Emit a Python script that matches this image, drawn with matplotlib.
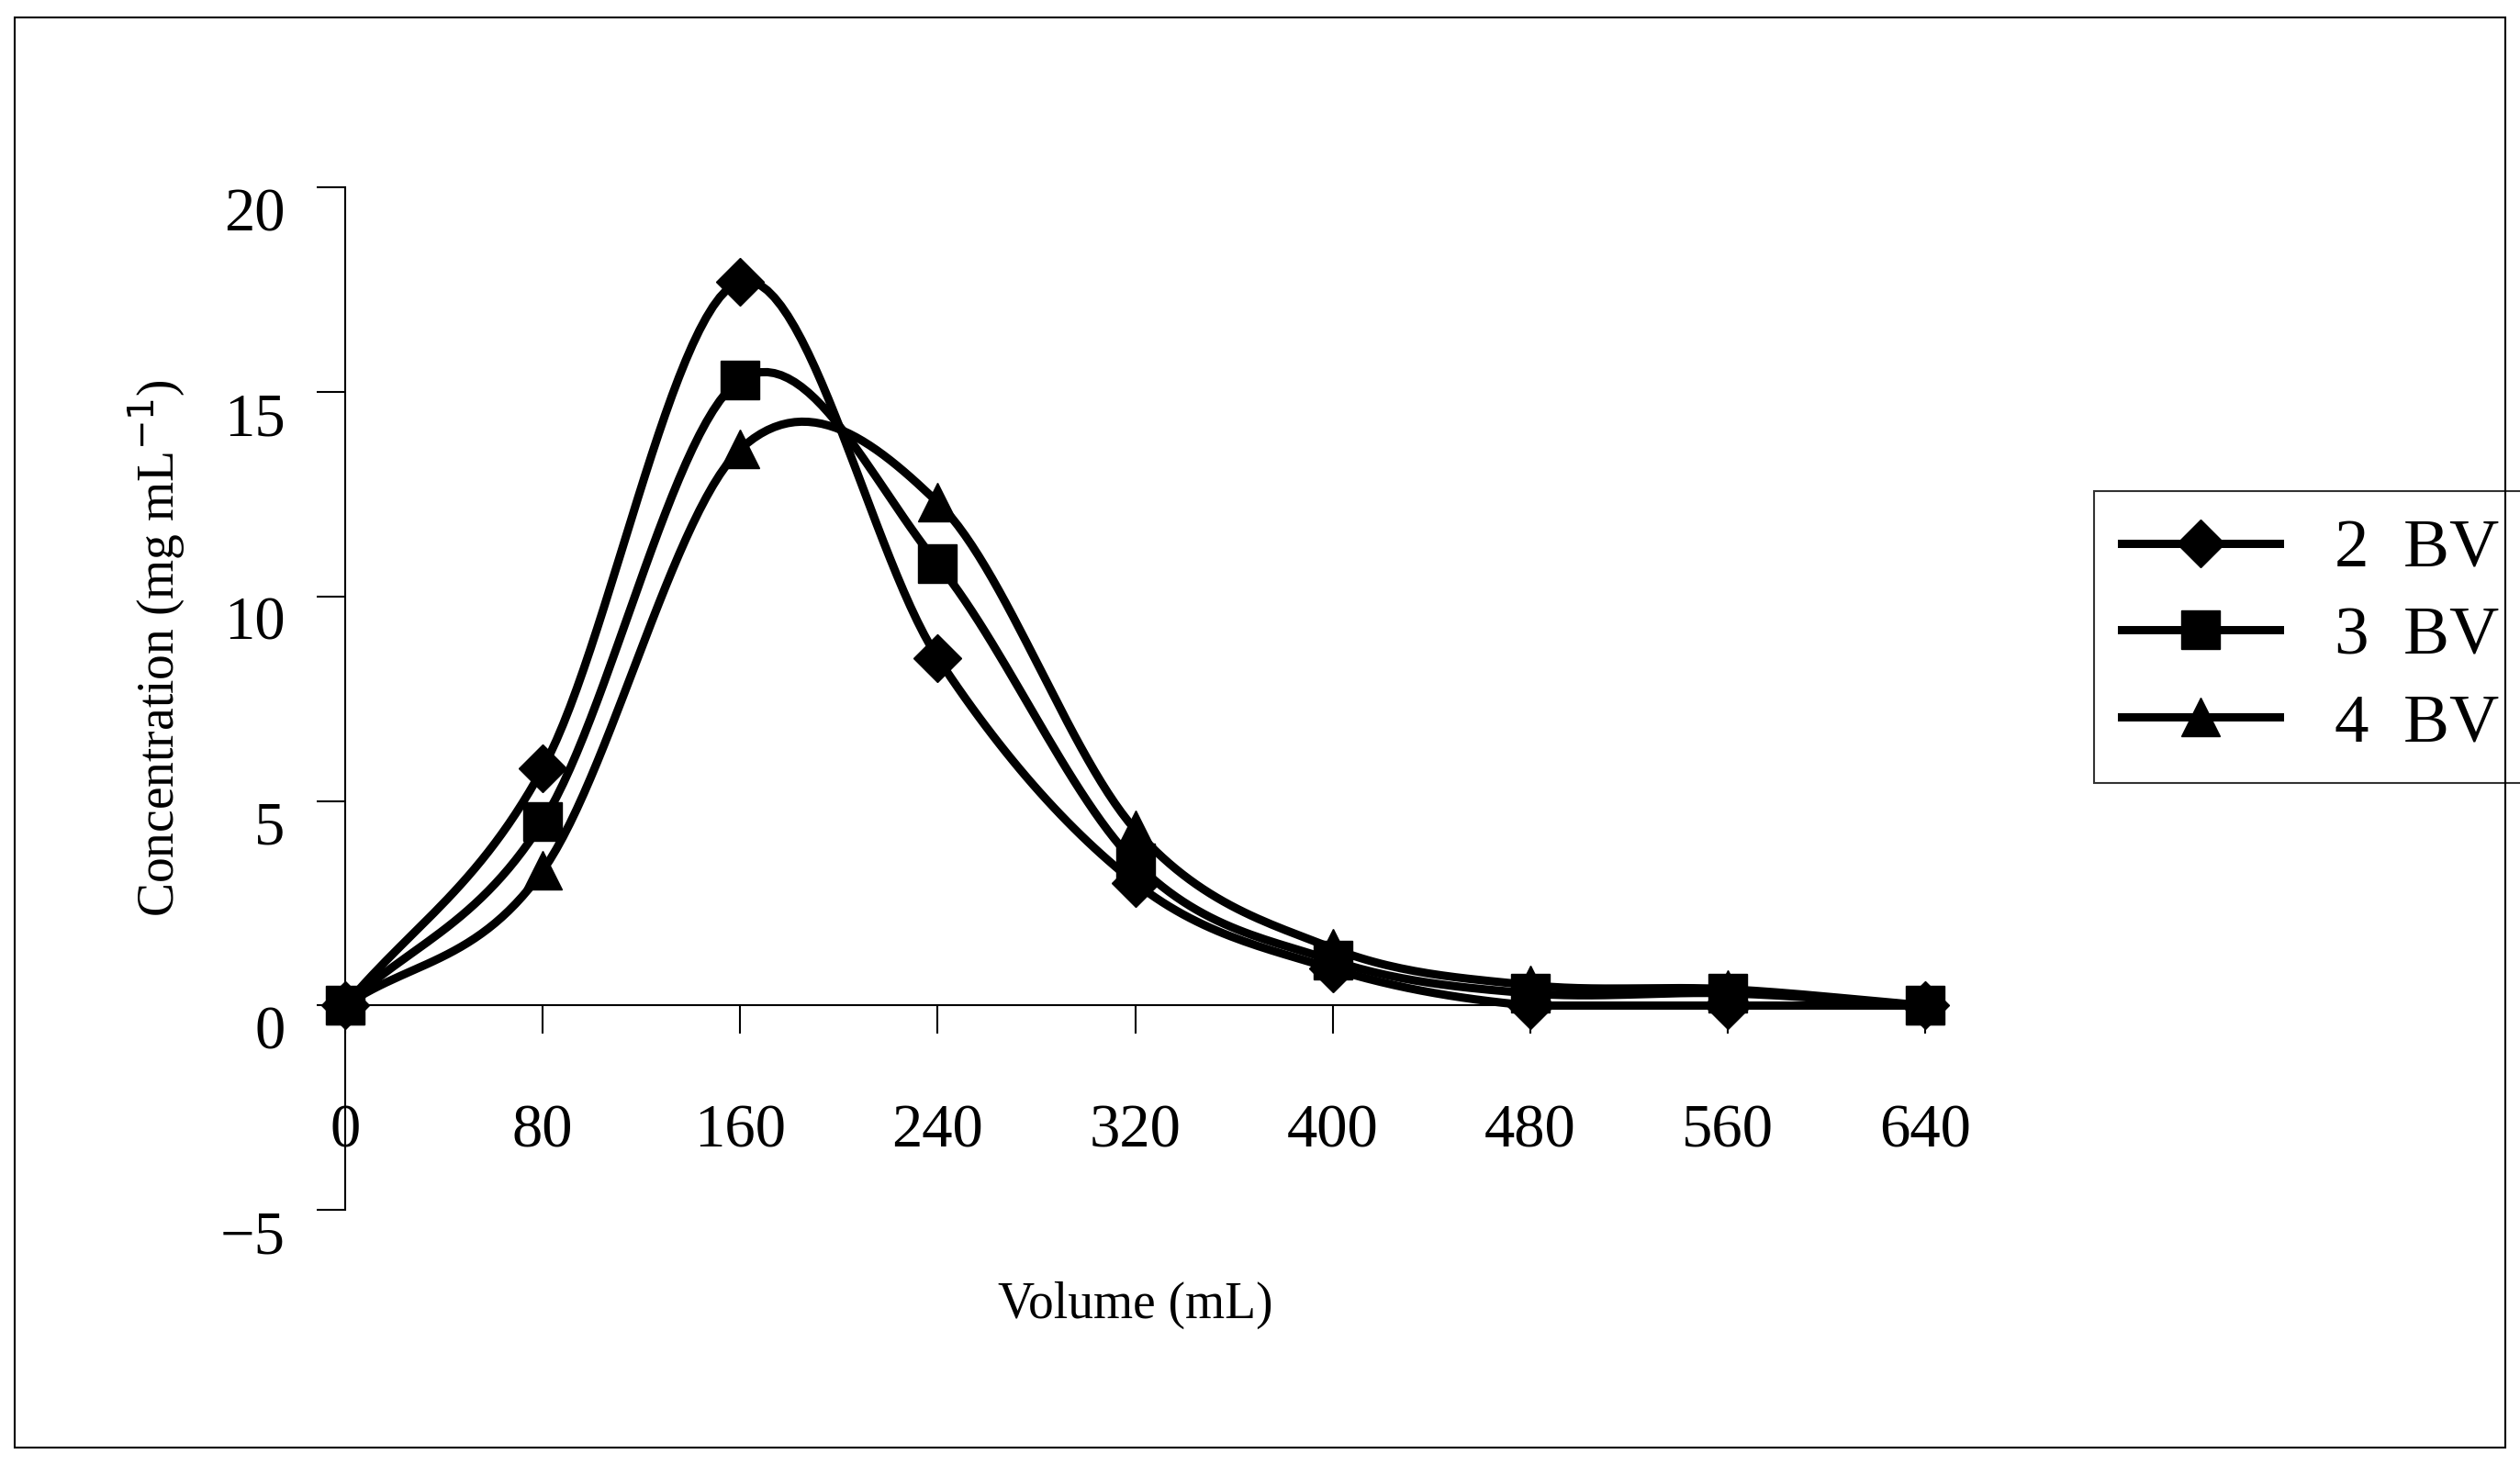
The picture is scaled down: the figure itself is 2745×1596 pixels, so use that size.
import numpy as np
import matplotlib
matplotlib.use("Agg")
import matplotlib.pyplot as plt
from matplotlib.patches import Rectangle

volume = [0, 80, 160, 240, 320, 400, 480, 560, 640]
bv2 = [0, 5.8, 17.7, 8.5, 3.0, 0.9, 0.0, 0.0, 0.0]
bv3 = [0, 4.5, 15.3, 10.8, 3.5, 1.1, 0.3, 0.3, 0.0]
bv4 = [0, 3.3, 13.6, 12.3, 4.3, 1.4, 0.5, 0.4, 0.0]
labels = ["2  BV", "3  BV", "4  BV"]
markers = ["D", "s", "^"]

def smooth(x, y, n=30):
    x = np.asarray(x, float); y = np.asarray(y, float)
    px = np.concatenate([[2*x[0]-x[1]], x, [2*x[-1]-x[-2]]])
    py = np.concatenate([[2*y[0]-y[1]], y, [2*y[-1]-y[-2]]])
    xs, ys = [], []
    t = np.linspace(0, 1, n)
    for i in range(1, len(px)-2):
        for P, out in ((px, xs), (py, ys)):
            p0, p1, p2, p3 = P[i-1], P[i], P[i+1], P[i+2]
            out.extend(0.5*((2*p1) + (-p0+p2)*t + (2*p0-5*p1+4*p2-p3)*t**2 + (-p0+3*p1-3*p2+p3)*t**3))
    return np.array(xs), np.maximum(np.array(ys), 0)

plt.rcParams['font.family'] = ['Liberation Serif', 'DejaVu Serif']
fig = plt.figure(figsize=(27.45, 15.96), dpi=100)
ax = fig.add_axes([0.137, 0.174, 0.627, 0.698])
for y, m, lab in zip([bv2, bv3, bv4], markers, labels):
    sx, sy = smooth(volume, y)
    ms = 26 if m == 'D' else 30
    ax.plot(sx, sy, color='black', lw=6.5, clip_on=False)
    ax.plot(volume, y, ls='none', marker=m, ms=ms, color='black', clip_on=False)
    ax.plot([], [], color='black', lw=6.5, marker=m, ms=ms, label=lab)

ax.set_xlim(0, 640)
ax.set_ylim(-5, 20)
ax.spines['top'].set_visible(False)
ax.spines['right'].set_visible(False)
ax.spines['bottom'].set_position(('data', 0))
ax.spines['bottom'].set_linewidth(1.5)
ax.spines['left'].set_linewidth(1.5)
ax.set_xticks(volume)
ax.set_yticks([-5, 0, 5, 10, 15, 20])
ax.set_yticklabels(['\u22125', '0', '5', '10', '15', '20'])
ax.tick_params(axis='x', direction='out', length=22, width=1.5, labelsize=48, pad=55)
ax.tick_params(axis='y', direction='out', length=22, width=1.5, labelsize=48, pad=25)
for t in ax.get_yticklabels():
    t.set_verticalalignment('top')
ax.set_xlabel('Volume (mL)', fontsize=40)
ax.xaxis.set_label_coords(0.5, -0.07)
ax.set_ylabel('Concentration (mg mL$^{-1}$)', fontsize=40)
ax.yaxis.set_label_coords(-0.1, 0.55)

leg = ax.legend(loc='center left', bbox_to_anchor=(1.085, 0.56), fontsize=54, frameon=True,
                fancybox=False, edgecolor='black', handlelength=2.3, borderpad=0.4,
                labelspacing=0.35, markerscale=1.0)
leg.get_frame().set_linewidth(1.5)

fig.patches.append(Rectangle((0.006, 0.012), 0.988, 0.976, transform=fig.transFigure,
                             fill=False, edgecolor='black', lw=1.5))
fig.savefig('out.png', dpi=100)
